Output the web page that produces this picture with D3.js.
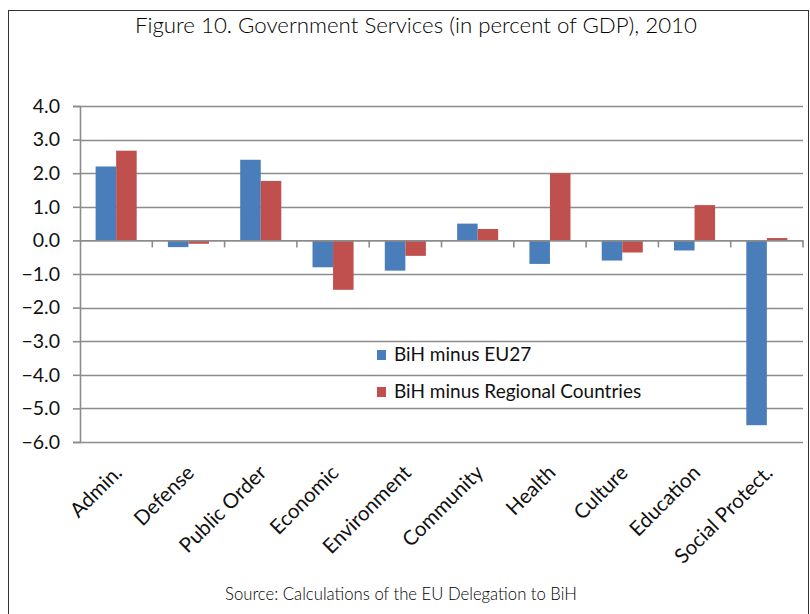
<!DOCTYPE html>
<html>
<head>
<meta charset="utf-8">
<script src="https://cdn.jsdelivr.net/npm/d3@7"></script>
<style>
  html, body { margin: 0; padding: 0; background: #fff; }
  svg { display: block; }
</style>
</head>
<body>
<svg id="chart" width="810" height="614"></svg>
<script>
// Government services gap, percent of GDP, 2010
const categories = ["Admin.", "Defense", "Public Order", "Economic", "Environment",
                    "Community", "Health", "Culture", "Education", "Social Protect."];
const seriesNames = ["BiH minus EU27", "BiH minus Regional Countries"];
const eu27Gap     = [2.2, -0.2, 2.4, -0.8, -0.9, 0.5, -0.7, -0.6, -0.3, -5.5];
const regionalGap = [2.67, -0.1, 1.77, -1.47, -0.46, 0.34, 2.0, -0.36, 1.05, 0.07];
const yTicks = [4, 3, 2, 1, 0, -1, -2, -3, -4, -5, -6];
const colors = ["#4a7ebb", "#c0504d"];

const titleText = "Figure 10. Government Services (in percent of GDP), 2010";
const sourceText = "Source: Calculations of the EU Delegation to BiH";

const FONT = "Lato, 'Open Sans', sans-serif";
const svg = d3.select("#chart");
const plot = { left: 80, right: 803, top: 106, bottom: 442 };

// scale a text's font size so its rendered width equals the given width
function fitWidth(sel, target) {
  const fs = parseFloat(sel.style("font-size"));
  const w = sel.node().getComputedTextLength();
  sel.style("font-size", (fs * target / w).toFixed(2) + "px");
}

// frame around the figure
svg.append("rect")
  .attr("x", 8.5).attr("y", 10.5)
  .attr("width", 800).attr("height", 640)
  .attr("fill", "none").attr("stroke", "#333").attr("stroke-width", 1);

// title
const title = svg.append("text")
  .attr("x", 416).attr("y", 33)
  .attr("text-anchor", "middle")
  .style("font-family", FONT)
  .style("font-weight", 300)
  .style("font-size", "21px")
  .attr("fill", "#000")
  .text(titleText);
fitWidth(title, 562);

const x = d3.scaleBand().domain(categories).range([plot.left, plot.right]).padding(0);
const xs = d3.scaleBand().domain(seriesNames).range([0, x.bandwidth()])
  .paddingInner(0).paddingOuter(0.76);
const y = d3.scaleLinear().domain([-6, 4]).range([plot.bottom, plot.top]);

// gridlines
svg.append("g")
  .selectAll("line")
  .data(yTicks.filter(d => d !== 0))
  .join("line")
  .attr("x1", plot.left).attr("x2", plot.right)
  .attr("y1", d => Math.round(y(d)) + 0.5).attr("y2", d => Math.round(y(d)) + 0.5)
  .attr("stroke", "#8c8c8c").attr("stroke-width", 1.6);

// y axis
const yAxis = svg.append("g")
  .attr("transform", `translate(${plot.left},0)`)
  .call(d3.axisLeft(y).tickValues(yTicks).tickFormat(d3.format(".1f")).tickSize(7).tickPadding(13));
yAxis.select(".domain").attr("stroke", "#8c8c8c").attr("stroke-width", 1.6);
yAxis.selectAll(".tick line").attr("stroke", "#8c8c8c").attr("stroke-width", 1.6);
yAxis.selectAll(".tick text")
  .style("font-family", FONT)
  .style("font-size", "19.5px")
  .attr("fill", "#111");

// bars
const rows = categories.map((c, i) => ({ cat: c, vals: [eu27Gap[i], regionalGap[i]] }));
const groups = svg.append("g").selectAll("g")
  .data(rows)
  .join("g")
  .attr("transform", d => `translate(${x(d.cat)},0)`);
groups.selectAll("rect")
  .data(d => d.vals.map((v, k) => ({ v, k })))
  .join("rect")
  .attr("x", d => xs(seriesNames[d.k]))
  .attr("width", xs.bandwidth())
  .attr("y", d => Math.min(y(d.v), y(0)))
  .attr("height", d => Math.abs(y(d.v) - y(0)))
  .attr("fill", d => colors[d.k]);

// category axis along zero
const xAxis = svg.append("g")
  .attr("transform", `translate(0,${y(0)})`)
  .call(d3.axisBottom(x).tickSize(0).tickFormat(""));
xAxis.select(".domain").attr("stroke", "#8c8c8c").attr("stroke-width", 1.6);
xAxis.selectAll(".tick").remove();
svg.append("g").selectAll("line")
  .data(d3.range(1, categories.length + 1))
  .join("line")
  .attr("x1", i => plot.left + i * x.step()).attr("x2", i => plot.left + i * x.step())
  .attr("y1", y(0)).attr("y2", y(0) + 7)
  .attr("stroke", "#8c8c8c").attr("stroke-width", 1.6);

// rotated category labels below the plot
svg.append("g").selectAll("text")
  .data(categories)
  .join("text")
  .attr("transform", d => `translate(${x(d) + x.bandwidth() / 2 + 7},${plot.bottom + 32}) rotate(-45)`)
  .attr("text-anchor", "end")
  .style("font-family", FONT)
  .style("font-size", "20.5px")
  .attr("fill", "#111")
  .text(d => d);

// legend
const legend = svg.append("g").selectAll("g")
  .data(seriesNames)
  .join("g")
  .attr("transform", (d, i) => `translate(377,${350 + i * 37})`);
legend.append("rect")
  .attr("width", 9).attr("height", 10)
  .attr("fill", (d, i) => colors[i]);
legend.append("text")
  .attr("x", 17).attr("y", 11)
  .style("font-family", FONT)
  .style("font-size", "19px")
  .attr("fill", "#111")
  .text(d => d);

// source note
const source = svg.append("text")
  .attr("x", 401).attr("y", 600)
  .attr("text-anchor", "middle")
  .style("font-family", FONT)
  .style("font-weight", 300)
  .style("font-size", "16px")
  .attr("fill", "#000")
  .text(sourceText);
fitWidth(source, 352);
</script>
</body>
</html>
